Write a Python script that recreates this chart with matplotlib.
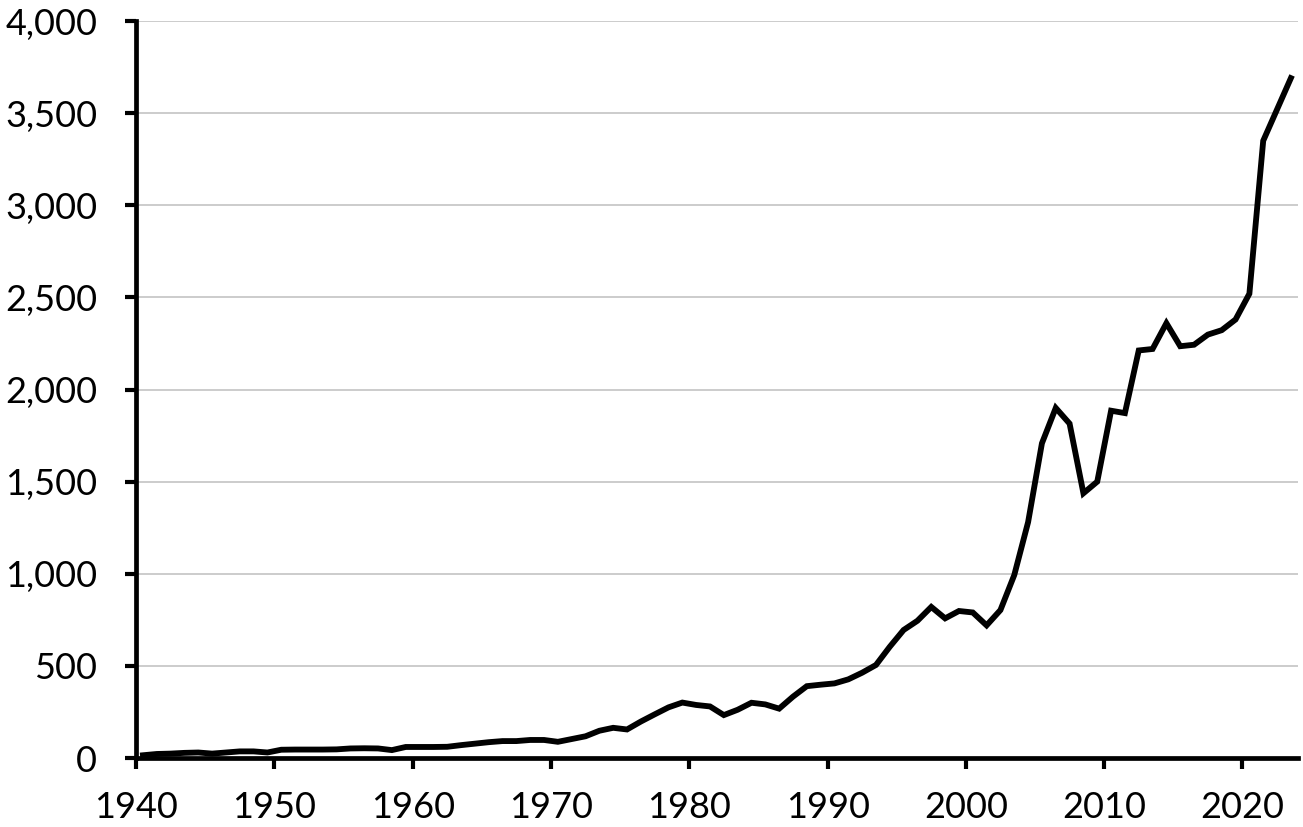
import matplotlib
matplotlib.use("Agg")
import matplotlib.pyplot as plt
import matplotlib.ticker as mtick
import numpy as np

years = np.arange(1940, 2024)
values = [
    15, 22, 24, 28, 30, 24, 30, 36, 36, 30,
    45, 46, 46, 46, 47, 52, 53, 52, 43, 60,
    60, 60, 61, 70, 78, 86, 92, 92, 98, 98,
    88, 103, 118, 148, 164, 155, 198, 237, 275, 301,
    288, 280, 233, 262, 300, 291, 268, 333, 390, 398,
    405, 427, 463, 505, 604, 695, 745, 820, 758, 798,
    790, 720, 803, 993, 1280, 1708, 1900, 1815, 1437, 1500,
    1885, 1872, 2212, 2220, 2360, 2235, 2243, 2298, 2322, 2380,
    2520, 3350, 3520, 3690,
]
x_ticks = list(range(1940, 2021, 10))
y_ticks = list(range(0, 4001, 500))

plt.rcParams["font.family"] = ["Lato", "DejaVu Sans"]

fig = plt.figure(figsize=(13.03, 8.27), dpi=100)
ax = fig.add_axes([0.1044, 0.0834, 0.8916, 0.8912])

# points sit in the middle of each year slot
ax.plot(years + 0.5, values, color="black", linewidth=4.2,
        solid_joinstyle="miter", zorder=3)

ax.set_xlim(1940, 2024)
ax.set_ylim(0, 4000)
ax.set_xticks(x_ticks)
ax.set_yticks(y_ticks)
ax.yaxis.set_major_formatter(mtick.StrMethodFormatter("{x:,.0f}"))

ax.grid(axis="y", color="#c8c8c8", linewidth=1.3)
ax.set_axisbelow(True)
for side in ["top", "right"]:
    ax.spines[side].set_visible(False)
for side in ["left", "bottom"]:
    ax.spines[side].set_linewidth(3.4)
    ax.spines[side].set_color("black")

ax.tick_params(axis="both", direction="out", length=8, width=3,
               labelsize=26, color="black")
ax.tick_params(axis="y", pad=20)
ax.tick_params(axis="x", pad=16)

fig.savefig("out.png", dpi=100)
